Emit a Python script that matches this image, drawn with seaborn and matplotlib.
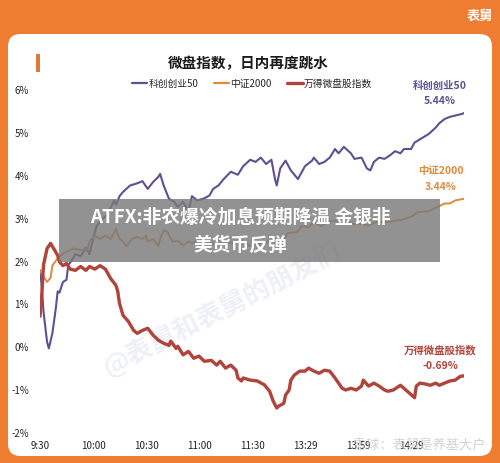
import numpy as np
import pandas as pd
import matplotlib
matplotlib.use('Agg')
import matplotlib.pyplot as plt
import seaborn as sns
from matplotlib.patches import FancyBboxPatch, Rectangle
from matplotlib.lines import Line2D

# ---------------- data ----------------
series_names = ['科创创业50', '中证2000', '万得微盘股指数']

kc_min = [0, 1, 2, 4, 5, 7, 9, 10, 11, 13, 15, 16, 18, 20, 23, 26, 28, 30, 32, 35, 38, 42, 43, 45, 47,
          51, 55, 58, 61, 64, 67, 68, 70, 73, 76, 78, 81, 84, 86, 89, 93, 96, 98, 101, 104, 108, 112,
          115, 119, 122, 125, 128, 131, 133, 134, 136, 139, 142, 146, 150, 154, 155, 158, 161, 164,
          167, 169, 172, 176, 178, 182, 185, 187, 189, 192, 195, 198, 201, 204, 206, 210, 212, 216,
          220, 224, 226, 229, 232, 235, 239, 240]
kc_val = [1.77, 1.4, 0.8, 0.1, -0.05, 0.3, 0.9, 1.28, 1.25, 1.5, 1.55, 1.9, 2.0, 2.15, 2.1, 2.3, 2.15,
          2.5, 2.8, 2.97, 3.05, 3.4, 3.3, 3.5, 3.6, 3.75, 3.8, 3.85, 3.67, 3.83, 3.95, 4.02, 3.75, 3.44,
          3.37, 3.25, 3.37, 3.15, 3.5, 3.4, 3.45, 3.52, 3.67, 3.75, 3.9, 4.07, 4.0, 4.2, 4.35, 4.3, 4.4,
          4.25, 4.35, 3.9, 3.75, 4.15, 4.33, 4.1, 3.9, 4.2, 4.33, 4.4, 4.25, 4.3, 4.4, 4.6, 4.5, 4.65,
          4.5, 4.37, 4.4, 4.15, 4.1, 4.3, 4.4, 4.37, 4.45, 4.55, 4.5, 4.6, 4.6, 4.75, 4.85, 4.95, 5.1,
          5.2, 5.3, 5.35, 5.38, 5.42, 5.44]

zz_min = [0, 4, 6, 7, 10, 13, 15, 19, 23, 27, 28, 31, 34, 37, 40, 43, 45, 47, 49, 52, 55, 58, 60, 61,
          64, 67, 68, 70, 72, 75, 78, 81, 84, 86, 91, 96, 101, 105, 110, 115, 119, 124, 129, 134, 138,
          140, 146, 148, 152, 155, 159, 163, 167, 171, 175, 178, 182, 186, 189, 193, 197, 201, 205, 210,
          214, 220, 225, 229, 232, 235, 240]
zz_val = [1.75, 1.5, 1.6, 1.88, 2.05, 2.16, 2.2, 2.28, 2.24, 2.28, 2.44, 2.58, 2.5, 2.58, 2.5, 2.74,
          2.5, 2.44, 2.33, 2.5, 2.55, 2.5, 2.58, 2.44, 2.5, 2.35, 2.5, 2.7, 2.67, 2.44, 2.46, 2.35, 2.44,
          2.4, 2.5, 2.42, 2.35, 2.44, 2.4, 2.45, 2.33, 2.4, 2.44, 2.42, 2.46, 2.63, 2.67, 2.8, 2.78, 2.9,
          2.8, 2.9, 2.93, 2.86, 2.9, 2.84, 2.86, 2.82, 2.88, 2.9, 2.9, 2.93, 2.95, 3.02, 3.13, 3.15, 3.25,
          3.33, 3.33, 3.4, 3.44]

wd_min = [0, 1, 2, 4, 6, 7, 10, 11, 13, 15, 17, 20, 23, 26, 28, 31, 34, 37, 40, 43, 44, 45, 47, 50, 53,
          55, 58, 61, 64, 67, 70, 73, 74, 77, 78, 81, 84, 87, 90, 93, 97, 100, 102, 105, 108, 111, 112,
          114, 115, 119, 123, 127, 130, 132, 134, 135, 138, 139, 141, 142, 144, 147, 150, 152, 155, 158,
          161, 164, 167, 171, 173, 176, 179, 182, 183, 186, 189, 192, 195, 197, 200, 204, 206, 209, 212,
          213, 215, 218, 221, 224, 226, 229, 232, 235, 238, 240]
wd_val = [0.7, 1.2, 1.9, 2.28, 2.4, 2.33, 2.12, 1.97, 1.88, 1.93, 1.8, 1.77, 1.86, 1.77, 1.86, 1.8, 1.88,
          1.8, 1.58, 1.42, 1.28, 1.0, 0.72, 0.58, 0.37, 0.3, 0.37, 0.42, 0.26, 0.14, 0.07, 0.02, 0.12,
          -0.05, 0.0, -0.2, -0.12, -0.28, -0.23, -0.35, -0.33, -0.44, -0.35, -0.51, -0.44, -0.56, -0.74,
          -0.81, -0.74, -0.79, -0.81, -0.9, -1.05, -1.28, -1.44, -1.4, -1.33, -1.14, -1.02, -0.79, -0.67,
          -0.58, -0.58, -0.51, -0.58, -0.63, -0.56, -0.58, -0.74, -0.98, -1.02, -0.98, -1.02, -0.93,
          -0.79, -0.93, -0.86, -0.93, -1.02, -1.05, -1.02, -0.91, -0.98, -1.09, -1.2, -0.93, -0.86,
          -0.88, -0.91, -0.86, -0.91, -0.86, -0.81, -0.79, -0.7, -0.69]

tick_minutes = [0, 30, 60, 90, 120, 150, 180, 210]
tick_labels = ['9:30', '10:00', '10:30', '11:00', '11:30', '13:29', '13:59', '14:29']
y_ticks = [-2, -1, 0, 1, 2, 3, 4, 5, 6]
end_values = ['5.44%', '3.44%', '-0.69%']

# ---------------- styling ----------------
sns.set_theme(style='white')
plt.rcParams['font.family'] = ['Noto Sans CJK SC', 'DejaVu Sans']

W, H = 500, 464
def fx(px):
    return px / W
def fy(py):
    return 1 - py / H

colors = ['#5f4f93', '#e08a3c', '#b0443a']
widths = [1.5, 1.4, 2.4]

fig = plt.figure(figsize=(5, 4.64), dpi=100)
fig.patch.set_facecolor('#EE7D31')

card = FancyBboxPatch((fx(8), fy(457)), fx(492) - fx(8), fy(35) - fy(457),
                      boxstyle='round,pad=0,rounding_size=0.025', mutation_aspect=W / H,
                      transform=fig.transFigure, facecolor='white', edgecolor='none', zorder=-10)
fig.patches.append(card)

fig.patches.append(Rectangle((fx(36), fy(73)), fx(40) - fx(36), fy(55) - fy(73),
                             transform=fig.transFigure, facecolor='#E07A35', edgecolor='none',
                             zorder=-5))

fig.text(fx(480), fy(16), '表舅', ha='center', va='center', color='white', fontsize=9.5, weight='bold')
fig.text(fx(248), fy(63), '微盘指数，日内再度跳水', ha='center', va='center', fontsize=10.5,
         weight='bold', color='#1a1a1a')

ax = fig.add_axes([fx(40), fy(433), fx(464) - fx(40), fy(90) - fy(433)])
ax.set_zorder(1)
ax.patch.set_alpha(0)

# faint diagonal watermark
ax.text(0.43, 0.36, '@表舅和表舅的朋友们', transform=ax.transAxes, rotation=27, ha='center',
        va='center', fontsize=19, weight='bold', color='#eef0f6', zorder=0)

frames = []
for name, mins, vals in [(series_names[0], kc_min, kc_val),
                         (series_names[1], zz_min, zz_val),
                         (series_names[2], wd_min, wd_val)]:
    frames.append(pd.DataFrame({'minute': mins, 'value': vals, 'series': name}))
df = pd.concat(frames, ignore_index=True)

for name, c, lw in zip(series_names, colors, widths):
    sns.lineplot(data=df[df['series'] == name], x='minute', y='value', color=c, linewidth=lw,
                 ax=ax, legend=False, zorder=3)

ax.set_xlim(0, 240)
ax.set_ylim(-2, 6)
ax.set_xticks(tick_minutes)
ax.set_xticklabels(tick_labels)
ax.set_yticks(y_ticks)
ax.set_yticklabels([f'{v}%' for v in y_ticks])
ax.set_xlabel('')
ax.set_ylabel('')
for s in ax.spines.values():
    s.set_visible(False)
ax.tick_params(axis='x', length=0, pad=6, labelsize=7, labelcolor='#222222')
ax.tick_params(axis='y', length=0, pad=8, labelsize=7, labelcolor='#222222')
ax.grid(False)

# legend
handles = [Line2D([0], [0], color=c, lw=max(lw, 1.6)) for c, lw in zip(colors, widths)]
fig.legend(handles, series_names, loc='center', bbox_to_anchor=(fx(252), fy(84)), ncol=3,
           frameon=False, fontsize=7, handlelength=1.6, handletextpad=0.1, columnspacing=1.6)

# end labels
label_pos = [(440, 86, 101), (441, 171, 187), (440, 350, 366)]
for name, val, c, (x, y1, y2) in zip(series_names, end_values, colors, label_pos):
    fig.text(fx(x), fy(y1), name, ha='center', va='center', fontsize=7.5, weight='bold', color=c)
    fig.text(fx(x), fy(y2), val, ha='center', va='center', fontsize=7.5, weight='bold', color=c)

# news banner overlay
fig.patches.append(Rectangle((fx(59), fy(263)), fx(440) - fx(59), fy(200) - fy(263),
                             transform=fig.transFigure, facecolor='#7a7a7a', alpha=0.82,
                             edgecolor='none', zorder=10))
fig.text(fx(240), fy(217), 'ATFX:非农爆冷加息预期降温 金银非', ha='center', va='center',
         fontsize=13.5, weight='bold', color='white', zorder=11)
fig.text(fx(240), fy(245), '美货币反弹', ha='center', va='center',
         fontsize=13.5, weight='bold', color='white', zorder=11)

# bottom-right source watermark
fig.text(fx(485), fy(445), '雪球：表舅是养基大户', ha='right', va='center', fontsize=9.5,
         color='#c8c8c8', alpha=0.8)

fig.savefig('out.png', dpi=100, facecolor=fig.get_facecolor())
